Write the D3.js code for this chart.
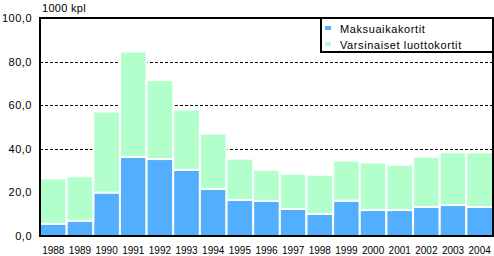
<!DOCTYPE html>
<html>
<head>
<meta charset="utf-8">
<script src="https://cdn.jsdelivr.net/npm/d3@7"></script>
<style>
  body { margin: 0; background: #fff; }
  text { font-family: "Liberation Sans", Arial, sans-serif; fill: #000; }
</style>
</head>
<body>
<script>
// data
const years = ['1988','1989','1990','1991','1992','1993','1994','1995','1996',
               '1997','1998','1999','2000','2001','2002','2003','2004'];
const maksuaika = [5.6, 7.0, 19.9, 36.3, 35.3, 30.3, 21.6, 16.5, 16.1, 12.4, 10.1, 16.2, 11.9, 11.9, 13.3, 14.2, 13.3];
const varsinaiset = [20.8, 20.4, 37.2, 48.4, 36.2, 27.7, 25.4, 19.0, 14.3, 16.2, 18.0, 18.4, 21.8, 20.8, 23.1, 24.2, 25.1];
const yTicks = [0, 20, 40, 60, 80, 100];
const seriesNames = ['Maksuaikakortit', 'Varsinaiset luottokortit'];
const colors = ['#52aeff', '#b3ffcc'];

const W = 494, H = 256;
const plotLeft = 40, plotRight = 493, plotTop = 18, plotBottom = 236;

const svg = d3.select('body').append('svg')
  .attr('width', W)
  .attr('height', H);

const x = d3.scaleBand().domain(years).range([plotLeft, plotRight]).padding(0);
const y = d3.scaleLinear().domain([0, 100]).range([plotBottom, plotTop]);

// grid lines
svg.append('g').selectAll('line')
  .data(yTicks.filter(d => d > 0 && d < 100))
  .enter().append('line')
  .attr('x1', plotLeft).attr('x2', plotRight)
  .attr('y1', d => Math.round(y(d)) + 0.5).attr('y2', d => Math.round(y(d)) + 0.5)
  .attr('stroke', '#000')
  .attr('stroke-dasharray', '3,2');

// stacked bars
const rows = years.map((yr, i) => ({ year: yr, m: maksuaika[i], v: varsinaiset[i] }));
const stack = d3.stack().keys(['m', 'v'])(rows);

svg.append('g').selectAll('g')
  .data(stack)
  .enter().append('g')
  .attr('fill', (d, i) => colors[i])
  .selectAll('rect')
  .data(d => d)
  .enter().append('rect')
  .attr('x', d => x(d.data.year))
  .attr('width', x.bandwidth())
  .attr('y', d => y(d[1]))
  .attr('height', d => y(d[0]) - y(d[1]))
  .attr('stroke', '#fff')
  .attr('stroke-width', 2);

// frame
svg.append('rect')
  .attr('x', plotLeft).attr('y', plotTop)
  .attr('width', plotRight - plotLeft).attr('height', plotBottom - plotTop)
  .attr('fill', 'none')
  .attr('stroke', '#000')
  .attr('stroke-width', 2);

// y labels
svg.append('g').selectAll('text')
  .data(yTicks)
  .enter().append('text')
  .attr('x', 32)
  .attr('y', d => y(d))
  .attr('dy', '0.36em')
  .attr('text-anchor', 'end')
  .style('font-size', '11px')
  .style('letter-spacing', '0.5px')
  .text(d => d3.format('.1f')(d).replace('.', ','));

svg.append('text')
  .attr('x', 42).attr('y', 12)
  .style('font-size', '11px')
  .style('letter-spacing', '0.3px')
  .text('1000 kpl');

// x labels
svg.append('g').selectAll('text')
  .data(years)
  .enter().append('text')
  .attr('x', d => x(d) + x.bandwidth() / 2)
  .attr('y', 254)
  .attr('text-anchor', 'middle')
  .style('font-size', '10px')
  .text(d => d);

// legend
const lg = svg.append('g');
lg.append('rect')
  .attr('x', 321).attr('y', plotTop)
  .attr('width', plotRight - 321).attr('height', 34)
  .attr('fill', '#fff')
  .attr('stroke', '#000')
  .attr('stroke-width', 2);

seriesNames.forEach((name, i) => {
  lg.append('rect')
    .attr('x', 325).attr('y', 26 + i * 16)
    .attr('width', 6).attr('height', 4)
    .attr('fill', colors[i]);
  lg.append('text')
    .attr('x', 340).attr('y', 32.5 + i * 16)
    .style('font-size', '11px')
    .style('letter-spacing', '0.6px')
    .text(name);
});
</script>
</body>
</html>
